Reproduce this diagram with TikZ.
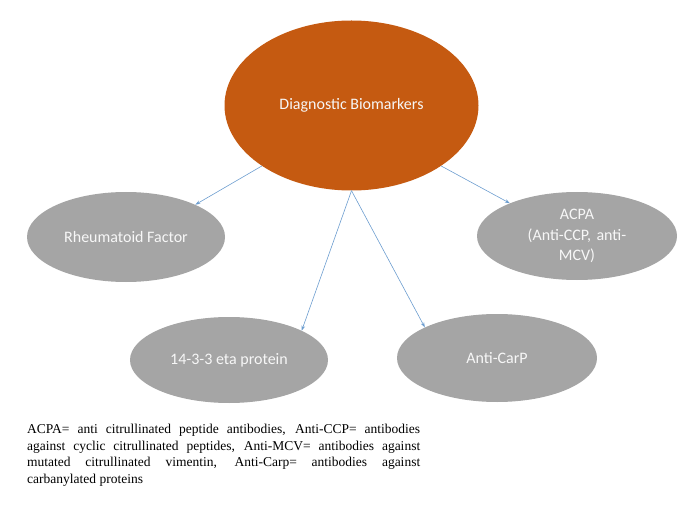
\documentclass[tikz,border=0pt]{standalone}
\usepackage{fontspec}
\setmainfont{Liberation Serif}
\newfontfamily\calib{Carlito}
\usepackage{xcolor}
\usetikzlibrary{shapes.geometric,arrows.meta}

\definecolor{rootorange}{HTML}{C55A11}
\definecolor{leafgray}{HTML}{A5A5A5}
\definecolor{linkblue}{HTML}{6C9DCF}

\tikzset{
  bubble/.style={ellipse,fill=leafgray,inner sep=0pt,
    text=white!94!gray,font=\calib\fontsize{16}{20.5}\selectfont,align=center},
  link/.style={linkblue,line width=0.6pt,-{Stealth[length=5pt,width=3.5pt]}}
}

\begin{document}
\begin{tikzpicture}[x=1pt,y=-1pt]
          \useasboundingbox (0,0) rectangle (693,505);
          \node[bubble,fill=rootorange,minimum width=254pt,minimum height=170pt]
            (root) at (351.5,105.5) {Diagnostic Biomarkers};
          \node[bubble,minimum width=198pt,minimum height=90pt]
            (rf) at (126,237) {Rheumatoid Factor};
          \node[bubble,minimum width=200pt,minimum height=88pt,text width=130pt]
            (acpa) at (577,236) {ACPA\\(Anti-CCP, anti-\\MCV)};
          \node[bubble,minimum width=198pt,minimum height=86pt]
            (eta) at (229,360) {14-3-3 eta protein};
          \node[bubble,minimum width=200pt,minimum height=88pt]
            (carp) at (497,358) {Anti-CarP};
          \draw[link] (root.214.5) -- (rf.25);
          \draw[link] (root.326) -- (acpa.154);
          \draw[link] (root.south) -- (eta.22.6);
          \draw[link] (root.south) -- (carp.157.4);
          \node[anchor=north west,inner sep=0pt,text width=393pt,align=justify,
            font=\fontsize{13.5}{16.7}\selectfont] (note) at (27,424)
            {ACPA= anti citrullinated peptide antibodies, Anti-CCP= antibodies\linebreak
            against cyclic citrullinated peptides, Anti-MCV= antibodies against\linebreak
            mutated citrullinated vimentin, Anti-Carp= antibodies against\linebreak
            carbanylated proteins};
        \end{tikzpicture}
\end{document}
